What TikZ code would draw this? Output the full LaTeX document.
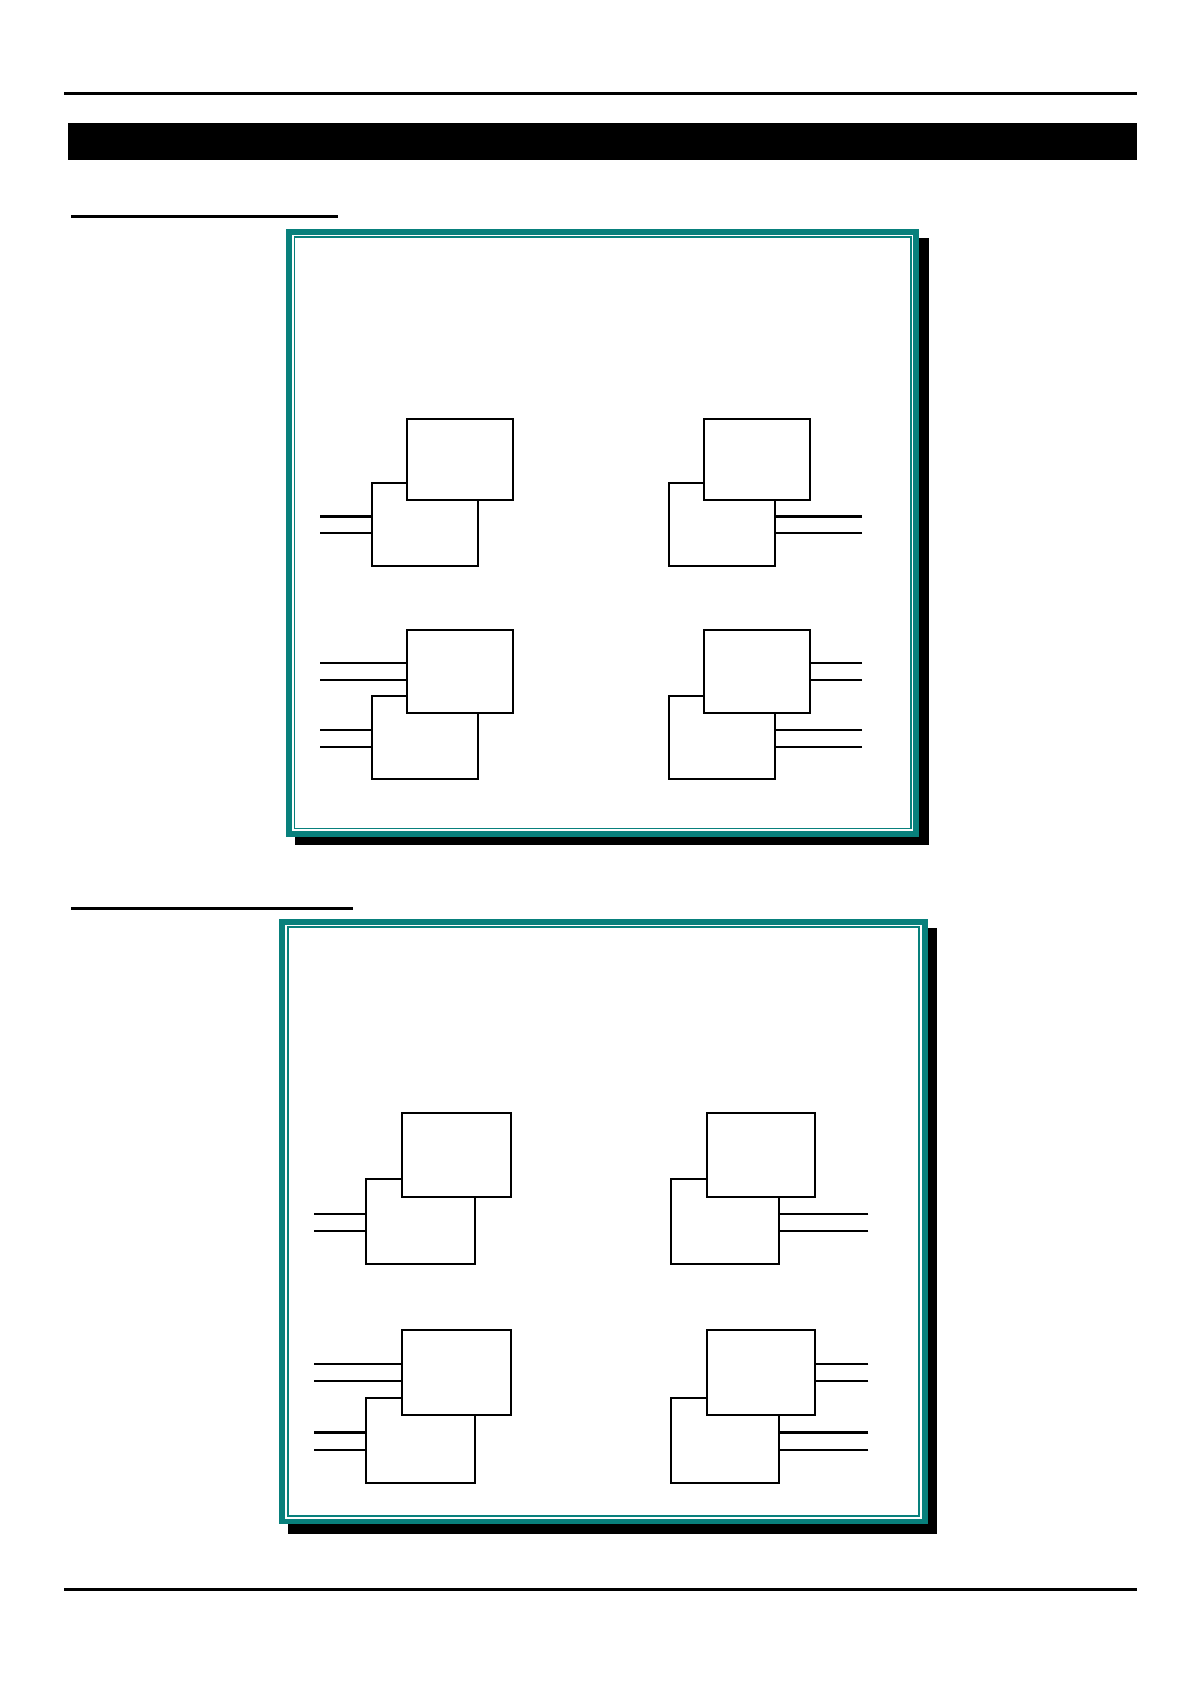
\documentclass[tikz,border=0pt]{standalone}
\usetikzlibrary{fit}
\definecolor{frameteal}{RGB}{8,128,124}
\tikzset{
  boxst/.style={draw, line width=1.15pt, fill=white, inner sep=0pt, rectangle},
  wirethin/.style={line width=0.85pt},
  wirethick/.style={line width=1.4pt},
  rule/.style={line width=1.5pt},
  shadowst/.style={fill=black},
  bandst/.style={fill=frameteal},
  innerline/.style={draw=frameteal, line width=0.85pt}
}
\begin{document}
\begin{tikzpicture}[x=0.5pt, y=-0.5pt]
\useasboundingbox (0,0) rectangle (1190,1684);
% header rules and bar
\coordinate (tl) at (64,93.5); \coordinate (tr) at (1137,93.5);
\draw[rule] (tl) -- (tr);
\fill[black] (68,122.7) rectangle (1137,160);
\coordinate (s1a) at (71,217); \coordinate (s1b) at (338,217);
\draw[rule] (s1a) -- (s1b);
\coordinate (s2a) at (71,908.2); \coordinate (s2b) at (353,908.2);
\draw[rule] (s2a) -- (s2b);
\coordinate (bl) at (64,1589.5); \coordinate (br) at (1137,1589.5);
\draw[rule] (bl) -- (br);

% ---------- frame 1 ----------
\fill[shadowst] (295,238) rectangle (929,845);
\fill[bandst] (286,229.3) rectangle (919.3,836.7);
\fill[white] (292,235.2) rectangle (913.3,830.8);
\draw[innerline] (294.5,237.3) rectangle (910.8,828.5);

% left column, row 1
\node[boxst, fit={(372,482.7)(478,565.7)}] (f1lAl) {};
\node[boxst, fit={(406.7,419)(513,499.7)}] (f1lAu) {};
\coordinate (w1) at (320,516.3); \coordinate (w2) at (320,533);
\draw[wirethick] (w1) -- (w1 -| f1lAl.west);
\draw[wirethin] (w2) -- (w2 -| f1lAl.west);
% left column, row 2
\node[boxst, fit={(372,696)(478,779.3)}] (f1lBl) {};
\node[boxst, fit={(406.7,630)(513,712.7)}] (f1lBu) {};
\coordinate (w3) at (320,663); \coordinate (w4) at (320,680);
\coordinate (w5) at (320,730); \coordinate (w6) at (320,747);
\draw[wirethin] (w3) -- (w3 -| f1lBu.west);
\draw[wirethin] (w4) -- (w4 -| f1lBu.west);
\draw[wirethin] (w5) -- (w5 -| f1lBl.west);
\draw[wirethin] (w6) -- (w6 -| f1lBl.west);
% right column, row 1
\node[boxst, fit={(668.7,482.7)(775,565.7)}] (f1rAl) {};
\node[boxst, fit={(704,419)(810,499.7)}] (f1rAu) {};
\coordinate (w7) at (862,516.3); \coordinate (w8) at (862,533);
\draw[wirethick] (w7) -- (w7 -| f1rAl.east);
\draw[wirethin] (w8) -- (w8 -| f1rAl.east);
% right column, row 2
\node[boxst, fit={(668.7,696)(775,779.3)}] (f1rBl) {};
\node[boxst, fit={(704,630)(810,712.7)}] (f1rBu) {};
\coordinate (w9) at (862,663); \coordinate (w10) at (862,680);
\coordinate (w11) at (862,730); \coordinate (w12) at (862,747);
\draw[wirethin] (w9) -- (w9 -| f1rBu.east);
\draw[wirethin] (w10) -- (w10 -| f1rBu.east);
\draw[wirethin] (w11) -- (w11 -| f1rBl.east);
\draw[wirethin] (w12) -- (w12 -| f1rBl.east);

% ---------- frame 2 ----------
\fill[shadowst] (288,928) rectangle (936.5,1534);
\fill[bandst] (279.3,919) rectangle (927.5,1524.3);
\fill[white] (285.3,925) rectangle (921.5,1518.6);
\draw[innerline] (287.8,927.1) rectangle (919,1516.3);

% left column, row 1
\node[boxst, fit={(366,1179.3)(474.7,1264)}] (f2lAl) {};
\node[boxst, fit={(401.7,1113.3)(511,1196.7)}] (f2lAu) {};
\coordinate (v1) at (314,1214); \coordinate (v2) at (314,1231);
\draw[wirethin] (v1) -- (v1 -| f2lAl.west);
\draw[wirethin] (v2) -- (v2 -| f2lAl.west);
% left column, row 2
\node[boxst, fit={(366,1398.3)(474.7,1482.7)}] (f2lBl) {};
\node[boxst, fit={(401.7,1330)(511,1415)}] (f2lBu) {};
\coordinate (v3) at (314,1364); \coordinate (v4) at (314,1381);
\coordinate (v5) at (314,1432.3); \coordinate (v6) at (314,1450);
\draw[wirethin] (v3) -- (v3 -| f2lBu.west);
\draw[wirethin] (v4) -- (v4 -| f2lBu.west);
\draw[wirethick] (v5) -- (v5 -| f2lBl.west);
\draw[wirethin] (v6) -- (v6 -| f2lBl.west);
% right column, row 1
\node[boxst, fit={(670.7,1179.3)(779,1264)}] (f2rAl) {};
\node[boxst, fit={(706.7,1113.3)(815,1196.7)}] (f2rAu) {};
\coordinate (v7) at (868.3,1214); \coordinate (v8) at (868.3,1231);
\draw[wirethin] (v7) -- (v7 -| f2rAl.east);
\draw[wirethin] (v8) -- (v8 -| f2rAl.east);
% right column, row 2
\node[boxst, fit={(670.7,1398.3)(779,1482.7)}] (f2rBl) {};
\node[boxst, fit={(706.7,1330)(815,1415)}] (f2rBu) {};
\coordinate (v9) at (868.3,1364); \coordinate (v10) at (868.3,1381);
\coordinate (v11) at (868.3,1432.3); \coordinate (v12) at (868.3,1450);
\draw[wirethin] (v9) -- (v9 -| f2rBu.east);
\draw[wirethin] (v10) -- (v10 -| f2rBu.east);
\draw[wirethick] (v11) -- (v11 -| f2rBl.east);
\draw[wirethin] (v12) -- (v12 -| f2rBl.east);
\end{tikzpicture}
\end{document}
